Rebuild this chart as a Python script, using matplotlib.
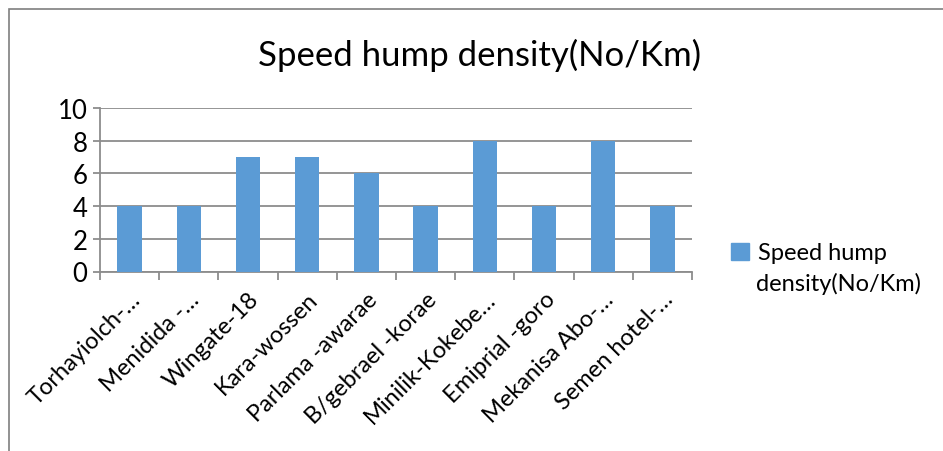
import matplotlib
matplotlib.use("Agg")
import matplotlib.pyplot as plt
from matplotlib.patches import Rectangle

# data
roads = ["Torhayiolch-…", "Menidida -…", "Wingate-18", "Kara-wossen",
         "Parlama -awarae", "B/gebrael -korae", "Minilik-Kokebe…",
         "Emiprial -goro", "Mekanisa Abo-…", "Semen hotel-…"]
density = [4, 4, 7, 7, 6, 4, 8, 4, 8, 4]
yticks = [0, 2, 4, 6, 8, 10]
series_name = "Speed hump density(No/Km)"

plt.rcParams['font.family'] = ['Lato', 'DejaVu Sans']

W, H = 943, 452
fig = plt.figure(figsize=(W / 100, H / 100), dpi=100)
grey = "#8c8c8c"

# outer chart border (only top/left visible in the crop)
fig.patches.append(Rectangle((9 / W, -0.1), 1.2, 1 - 10 / H + 0.1,
                             transform=fig.transFigure, fill=False,
                             edgecolor="#7f7f7f", linewidth=1.2))

ax = fig.add_axes([100 / W, 1 - 272.5 / H, 592 / W, 163.5 / H])
x = range(len(roads))
ax.bar(x, density, width=0.41, color="#5B9BD5", zorder=3)

ax.set_ylim(0, 10)
ax.set_xlim(-0.5, len(roads) - 0.5)
ax.set_yticks(yticks)
ax.set_yticklabels([str(v) for v in yticks], fontsize=18.5)
ax.yaxis.grid(True, color=grey, linewidth=1.3, zorder=0)
ax.tick_params(axis="y", length=5, width=1.3, color=grey, pad=4)

ax.set_xticks([i - 0.5 for i in range(len(roads) + 1)])
ax.set_xticklabels([])
ax.set_xticks(list(x), minor=True)
ax.set_xticklabels(roads, minor=True, rotation=45, ha="right",
                   rotation_mode="anchor", fontsize=17)
ax.tick_params(axis="x", which="major", length=6, width=1.3, color=grey)
ax.tick_params(axis="x", which="minor", length=0, pad=12)

for side in ["top", "right"]:
    ax.spines[side].set_visible(False)
for side in ["left", "bottom"]:
    ax.spines[side].set_color(grey)
    ax.spines[side].set_linewidth(1.3)

fig.text(480 / W, 1 - 55 / H, "Speed hump density(No/Km)",
         ha="center", va="center", fontsize=25)

# legend: swatch beside first line, label wraps onto a second line
first, second = series_name.split(" density")
leg = ax.legend([Rectangle((0, 0), 1, 1, color="#5B9BD5")], [first],
                loc="center left", bbox_to_anchor=(719 / W, 1 - 254 / H),
                bbox_transform=fig.transFigure, frameon=False, fontsize=17,
                handlelength=0.75, handleheight=0.75, handletextpad=0.4,
                borderpad=0)
fig.text(756 / W, 1 - 284 / H, "density" + second, ha="left", va="center",
         fontsize=17)

fig.savefig("out.png", dpi=100)
